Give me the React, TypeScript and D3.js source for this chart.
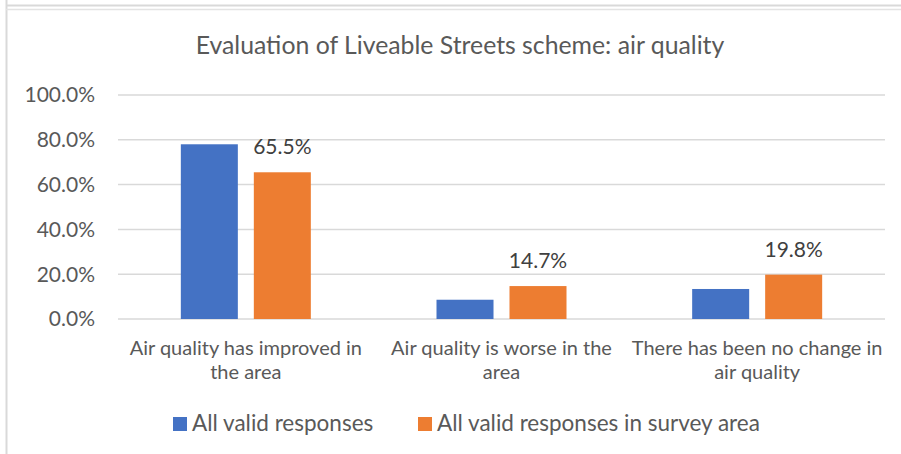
import React from "react";
import * as d3 from "d3";

const categories = [
  ["Air quality has improved in", "the area"],
  ["Air quality is worse in the", "area"],
  ["There has been no change in", "air quality"],
];
const seriesNames = ["All valid responses", "All valid responses in survey area"];
const allValid = [0.78, 0.086, 0.134];
const surveyArea = [0.655, 0.147, 0.198];
const yTicks = [0, 0.2, 0.4, 0.6, 0.8, 1.0];

const colors = ["#4472C4", "#ED7D31"];
const textColor = "#595959";
const font = "Lato, 'Open Sans', sans-serif";

const App = () => {
  const width = 901;
  const height = 454;
  const plot = { left: 118, right: 885, top: 95, bottom: 319 };

  const x0 = d3
    .scaleBand<number>()
    .domain(d3.range(categories.length))
    .range([plot.left, plot.right]);
  const groupWidth = 130;
  const x1 = d3
    .scaleBand<number>()
    .domain([0, 1])
    .range([0, groupWidth])
    .paddingInner(0.219);
  const y = d3.scaleLinear().domain([0, 1]).range([plot.bottom, plot.top]);
  const fmt = d3.format(".1%");

  const series = [allValid, surveyArea];

  return (
    <svg
      width={width}
      height={height}
      style={{ position: "absolute", left: 0, top: 0, background: "#fff" }}
      fontFamily={font}
    >
      {/* frame */}
      <line x1={6.5} x2={6.5} y1={0} y2={height} stroke="#d9d9d9" strokeWidth={2} />
      <line x1={6} x2={width} y1={5.5} y2={5.5} stroke="#d9d9d9" strokeWidth={2} />
      <line x1={6} x2={width} y1={9.5} y2={9.5} stroke="#e3e3e3" strokeWidth={1.5} />

      <text x={460} y={54} textAnchor="middle" fontSize={24.8} fill={textColor}>
        Evaluation of Liveable Streets scheme: air quality
      </text>

      {yTicks.map((t) => (
        <g key={t}>
          <line
            x1={plot.left}
            x2={plot.right}
            y1={y(t)}
            y2={y(t)}
            stroke="#d9d9d9"
            strokeWidth={1.5}
          />
          <text
            x={95}
            y={y(t)}
            dy="0.35em"
            textAnchor="end"
            fontSize={21}
            fill={textColor}
          >
            {fmt(t)}
          </text>
        </g>
      ))}

      {series.map((vals, si) =>
        vals.map((v, ci) => {
          const cx = x0(ci)! + x0.bandwidth() / 2 - groupWidth / 2;
          const bx = cx + x1(si)!;
          return (
            <g key={`${si}-${ci}`}>
              <rect
                x={bx}
                y={y(v)}
                width={x1.bandwidth()}
                height={y(0) - y(v)}
                fill={colors[si]}
              />
              {si === 1 && (
                <text
                  x={bx + x1.bandwidth() / 2}
                  y={y(v) - 18}
                  textAnchor="middle"
                  fontSize={21}
                  fill="#404040"
                >
                  {fmt(v)}
                </text>
              )}
            </g>
          );
        })
      )}

      {categories.map((lines, ci) => (
        <text
          key={ci}
          x={x0(ci)! + x0.bandwidth() / 2}
          textAnchor="middle"
          fontSize={20}
          fill={textColor}
        >
          {lines.map((l, li) => (
            <tspan key={li} x={x0(ci)! + x0.bandwidth() / 2} y={355 + li * 24}>
              {l}
            </tspan>
          ))}
        </text>
      ))}

      {seriesNames.map((name, si) => {
        const lx = [173, 418][si];
        return (
          <g key={name}>
            <rect x={lx} y={417} width={14} height={14} fill={colors[si]} />
            <text x={lx + 19} y={431} fontSize={22.5} fill={textColor}>
              {name}
            </text>
          </g>
        );
      })}
    </svg>
  );
};

export default App;
